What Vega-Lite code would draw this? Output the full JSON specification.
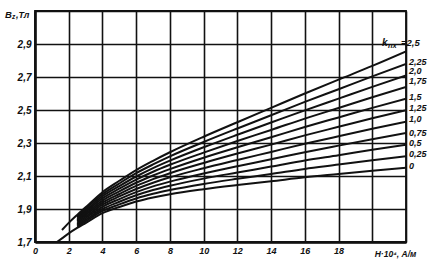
{
  "$schema": "https://vega.github.io/schema/vega-lite/v6.json",
  "width": 371,
  "height": 231,
  "autosize": "none",
  "padding": {"left": 35, "top": 11, "right": 26, "bottom": 18},
  "background": "white",
  "config": {
    "view": {"stroke": "#111", "strokeWidth": 1.8},
    "font": "Liberation Sans",
    "axis": {
      "grid": true, "gridColor": "#111", "gridWidth": 1.6, "gridOpacity": 1,
      "tickSize": 0, "domainColor": "#111", "domainWidth": 2.5,
      "labelFont": "Liberation Sans", "labelFontStyle": "italic", "labelFontWeight": "bold",
      "labelColor": "#111", "labelPadding": 4, "labelFlush": false, "labelOverlap": false,
      "titleFont": "Liberation Sans", "titleFontStyle": "italic", "titleFontWeight": "bold", "titleColor": "#111"
    },
    "axisX": {"labelFontSize": 9, "titleFontSize": 8.5, "titleX": 360, "titleY": 11, "titleAlign": "center", "titleBaseline": "middle"},
    "axisY": {"labelFontSize": 10}
  },
  "datasets": {
    "curves": [
      {"k": 0, "H": 1.3, "B": 1.700}, {"k": 0, "H": 1.6, "B": 1.722}, {"k": 0, "H": 2, "B": 1.752}, {"k": 0, "H": 2.5, "B": 1.785}, {"k": 0, "H": 3, "B": 1.815}, {"k": 0, "H": 4, "B": 1.875}, {"k": 0, "H": 5, "B": 1.912}, {"k": 0, "H": 6, "B": 1.945}, {"k": 0, "H": 7, "B": 1.970}, {"k": 0, "H": 8, "B": 1.990}, {"k": 0, "H": 10, "B": 2.020}, {"k": 0, "H": 12, "B": 2.045}, {"k": 0, "H": 14, "B": 2.068}, {"k": 0, "H": 16, "B": 2.092}, {"k": 0, "H": 18, "B": 2.112}, {"k": 0, "H": 20, "B": 2.132}, {"k": 0, "H": 22, "B": 2.150},
      {"k": 0.25, "H": 2.5, "B": 1.793}, {"k": 0.25, "H": 3, "B": 1.825}, {"k": 0.25, "H": 4, "B": 1.888}, {"k": 0.25, "H": 5, "B": 1.928}, {"k": 0.25, "H": 6, "B": 1.964}, {"k": 0.25, "H": 7, "B": 1.992}, {"k": 0.25, "H": 8, "B": 2.015}, {"k": 0.25, "H": 10, "B": 2.052}, {"k": 0.25, "H": 12, "B": 2.083}, {"k": 0.25, "H": 14, "B": 2.112}, {"k": 0.25, "H": 16, "B": 2.143}, {"k": 0.25, "H": 18, "B": 2.169}, {"k": 0.25, "H": 20, "B": 2.196}, {"k": 0.25, "H": 22, "B": 2.220},
      {"k": 0.5, "H": 2.5, "B": 1.801}, {"k": 0.5, "H": 3, "B": 1.834}, {"k": 0.5, "H": 4, "B": 1.900}, {"k": 0.5, "H": 5, "B": 1.944}, {"k": 0.5, "H": 6, "B": 1.983}, {"k": 0.5, "H": 7, "B": 2.015}, {"k": 0.5, "H": 8, "B": 2.041}, {"k": 0.5, "H": 10, "B": 2.084}, {"k": 0.5, "H": 12, "B": 2.121}, {"k": 0.5, "H": 14, "B": 2.157}, {"k": 0.5, "H": 16, "B": 2.194}, {"k": 0.5, "H": 18, "B": 2.226}, {"k": 0.5, "H": 20, "B": 2.259}, {"k": 0.5, "H": 22, "B": 2.290},
      {"k": 0.75, "H": 2.5, "B": 1.809}, {"k": 0.75, "H": 3, "B": 1.844}, {"k": 0.75, "H": 4, "B": 1.913}, {"k": 0.75, "H": 5, "B": 1.960}, {"k": 0.75, "H": 6, "B": 2.002}, {"k": 0.75, "H": 7, "B": 2.037}, {"k": 0.75, "H": 8, "B": 2.066}, {"k": 0.75, "H": 10, "B": 2.115}, {"k": 0.75, "H": 12, "B": 2.159}, {"k": 0.75, "H": 14, "B": 2.201}, {"k": 0.75, "H": 16, "B": 2.244}, {"k": 0.75, "H": 18, "B": 2.284}, {"k": 0.75, "H": 20, "B": 2.323}, {"k": 0.75, "H": 22, "B": 2.360},
      {"k": 1, "H": 2.5, "B": 1.817}, {"k": 1, "H": 3, "B": 1.853}, {"k": 1, "H": 4, "B": 1.926}, {"k": 1, "H": 5, "B": 1.976}, {"k": 1, "H": 6, "B": 2.021}, {"k": 1, "H": 7, "B": 2.059}, {"k": 1, "H": 8, "B": 2.092}, {"k": 1, "H": 10, "B": 2.147}, {"k": 1, "H": 12, "B": 2.197}, {"k": 1, "H": 14, "B": 2.246}, {"k": 1, "H": 16, "B": 2.295}, {"k": 1, "H": 18, "B": 2.341}, {"k": 1, "H": 20, "B": 2.386}, {"k": 1, "H": 22, "B": 2.429},
      {"k": 1.25, "H": 2.5, "B": 1.825}, {"k": 1.25, "H": 3, "B": 1.863}, {"k": 1.25, "H": 4, "B": 1.939}, {"k": 1.25, "H": 5, "B": 1.991}, {"k": 1.25, "H": 6, "B": 2.040}, {"k": 1.25, "H": 7, "B": 2.081}, {"k": 1.25, "H": 8, "B": 2.117}, {"k": 1.25, "H": 10, "B": 2.179}, {"k": 1.25, "H": 12, "B": 2.236}, {"k": 1.25, "H": 14, "B": 2.290}, {"k": 1.25, "H": 16, "B": 2.346}, {"k": 1.25, "H": 18, "B": 2.398}, {"k": 1.25, "H": 20, "B": 2.450}, {"k": 1.25, "H": 22, "B": 2.499},
      {"k": 1.5, "H": 2.5, "B": 1.833}, {"k": 1.5, "H": 3, "B": 1.872}, {"k": 1.5, "H": 4, "B": 1.951}, {"k": 1.5, "H": 5, "B": 2.007}, {"k": 1.5, "H": 6, "B": 2.059}, {"k": 1.5, "H": 7, "B": 2.103}, {"k": 1.5, "H": 8, "B": 2.142}, {"k": 1.5, "H": 10, "B": 2.211}, {"k": 1.5, "H": 12, "B": 2.274}, {"k": 1.5, "H": 14, "B": 2.335}, {"k": 1.5, "H": 16, "B": 2.397}, {"k": 1.5, "H": 18, "B": 2.455}, {"k": 1.5, "H": 20, "B": 2.513}, {"k": 1.5, "H": 22, "B": 2.569},
      {"k": 1.75, "H": 2.5, "B": 1.841}, {"k": 1.75, "H": 3, "B": 1.882}, {"k": 1.75, "H": 4, "B": 1.964}, {"k": 1.75, "H": 5, "B": 2.023}, {"k": 1.75, "H": 6, "B": 2.078}, {"k": 1.75, "H": 7, "B": 2.126}, {"k": 1.75, "H": 8, "B": 2.168}, {"k": 1.75, "H": 10, "B": 2.242}, {"k": 1.75, "H": 12, "B": 2.312}, {"k": 1.75, "H": 14, "B": 2.379}, {"k": 1.75, "H": 16, "B": 2.448}, {"k": 1.75, "H": 18, "B": 2.512}, {"k": 1.75, "H": 20, "B": 2.577}, {"k": 1.75, "H": 22, "B": 2.639},
      {"k": 2, "H": 2.5, "B": 1.849}, {"k": 2, "H": 3, "B": 1.891}, {"k": 2, "H": 4, "B": 1.977}, {"k": 2, "H": 5, "B": 2.039}, {"k": 2, "H": 6, "B": 2.097}, {"k": 2, "H": 7, "B": 2.148}, {"k": 2, "H": 8, "B": 2.193}, {"k": 2, "H": 10, "B": 2.274}, {"k": 2, "H": 12, "B": 2.350}, {"k": 2, "H": 14, "B": 2.424}, {"k": 2, "H": 16, "B": 2.498}, {"k": 2, "H": 18, "B": 2.569}, {"k": 2, "H": 20, "B": 2.640}, {"k": 2, "H": 22, "B": 2.709},
      {"k": 2.25, "H": 2.5, "B": 1.856}, {"k": 2.25, "H": 3, "B": 1.901}, {"k": 2.25, "H": 4, "B": 1.989}, {"k": 2.25, "H": 5, "B": 2.055}, {"k": 2.25, "H": 6, "B": 2.117}, {"k": 2.25, "H": 7, "B": 2.170}, {"k": 2.25, "H": 8, "B": 2.219}, {"k": 2.25, "H": 10, "B": 2.306}, {"k": 2.25, "H": 12, "B": 2.388}, {"k": 2.25, "H": 14, "B": 2.468}, {"k": 2.25, "H": 16, "B": 2.549}, {"k": 2.25, "H": 18, "B": 2.626}, {"k": 2.25, "H": 20, "B": 2.704}, {"k": 2.25, "H": 22, "B": 2.779},
      {"k": 2.5, "H": 1.6, "B": 1.773}, {"k": 2.5, "H": 2, "B": 1.816}, {"k": 2.5, "H": 2.5, "B": 1.864}, {"k": 2.5, "H": 3, "B": 1.910}, {"k": 2.5, "H": 4, "B": 2.002}, {"k": 2.5, "H": 5, "B": 2.071}, {"k": 2.5, "H": 6, "B": 2.136}, {"k": 2.5, "H": 7, "B": 2.192}, {"k": 2.5, "H": 8, "B": 2.244}, {"k": 2.5, "H": 10, "B": 2.338}, {"k": 2.5, "H": 12, "B": 2.426}, {"k": 2.5, "H": 14, "B": 2.513}, {"k": 2.5, "H": 16, "B": 2.600}, {"k": 2.5, "H": 18, "B": 2.684}, {"k": 2.5, "H": 20, "B": 2.767}, {"k": 2.5, "H": 22, "B": 2.855}
    ],
    "labels": [
      {"label": "2,25", "B": 2.788},
      {"label": "2,0", "B": 2.734},
      {"label": "1,75", "B": 2.678},
      {"label": "1,5", "B": 2.577},
      {"label": "1,25", "B": 2.513},
      {"label": "1,0", "B": 2.447},
      {"label": "0,75", "B": 2.363},
      {"label": "0,5", "B": 2.302},
      {"label": "0,25", "B": 2.236},
      {"label": "0", "B": 2.160}
    ]
  },
  "layer": [
    {
      "data": {"name": "curves"},
      "mark": {"type": "line", "color": "#111", "strokeWidth": 2, "interpolate": "monotone", "clip": true},
      "encoding": {
        "x": {"field": "H", "type": "quantitative", "scale": {"domain": [0, 22], "nice": false, "zero": false},
          "axis": {"values": [0, 2, 4, 6, 8, 10, 12, 14, 16, 18, 20, 22], "labelExpr": "datum.value >= 20 ? '' : datum.label", "title": "H·10⁴, А/м"}},
        "y": {"field": "B", "type": "quantitative", "scale": {"domain": [1.7, 3.1], "nice": false, "zero": false},
          "axis": {"values": [1.7, 1.9, 2.1, 2.3, 2.5, 2.7, 2.9, 3.1], "labelExpr": "datum.value > 3 ? '' : replace(format(datum.value, '.1f'), '.', ',')", "title": null}},
        "detail": {"field": "k", "type": "nominal"}
      }
    },
    {
      "data": {"name": "labels"},
      "mark": {"type": "text", "align": "left", "baseline": "middle", "dx": 3, "fontSize": 9, "fontStyle": "italic", "fontWeight": "bold", "color": "#111", "clip": false},
      "encoding": {
        "x": {"datum": 22, "type": "quantitative",
          "axis": {"values": [0, 2, 4, 6, 8, 10, 12, 14, 16, 18, 20, 22], "labelExpr": "datum.value >= 20 ? '' : datum.label", "title": "H·10⁴, А/м"}},
        "y": {"field": "B", "type": "quantitative",
          "axis": {"values": [1.7, 1.9, 2.1, 2.3, 2.5, 2.7, 2.9, 3.1], "labelExpr": "datum.value > 3 ? '' : replace(format(datum.value, '.1f'), '.', ',')", "title": null}},
        "text": {"field": "label"}
      }
    },
    {
      "data": {"values": [{}]},
      "mark": {"type": "text", "align": "left", "baseline": "middle", "dx": -24, "dy": -1, "fontSize": 10, "fontStyle": "italic", "fontWeight": "bold", "color": "#111", "clip": false, "text": "k"},
      "encoding": {
        "x": {"datum": 22, "type": "quantitative", "axis": {"values": [0, 2, 4, 6, 8, 10, 12, 14, 16, 18, 20, 22], "labelExpr": "datum.value >= 20 ? '' : datum.label", "title": "H·10⁴, А/м"}},
        "y": {"datum": 2.9, "type": "quantitative", "axis": {"values": [1.7, 1.9, 2.1, 2.3, 2.5, 2.7, 2.9, 3.1], "labelExpr": "datum.value > 3 ? '' : replace(format(datum.value, '.1f'), '.', ',')", "title": null}}
      }
    },
    {
      "data": {"values": [{}]},
      "mark": {"type": "text", "align": "left", "baseline": "middle", "dx": -18, "dy": 2, "fontSize": 7.5, "fontStyle": "italic", "fontWeight": "bold", "color": "#111", "clip": false, "text": "пх"},
      "encoding": {
        "x": {"datum": 22, "type": "quantitative", "axis": {"values": [0, 2, 4, 6, 8, 10, 12, 14, 16, 18, 20, 22], "labelExpr": "datum.value >= 20 ? '' : datum.label", "title": "H·10⁴, А/м"}},
        "y": {"datum": 2.9, "type": "quantitative", "axis": {"values": [1.7, 1.9, 2.1, 2.3, 2.5, 2.7, 2.9, 3.1], "labelExpr": "datum.value > 3 ? '' : replace(format(datum.value, '.1f'), '.', ',')", "title": null}}
      }
    },
    {
      "data": {"values": [{}]},
      "mark": {"type": "text", "align": "left", "baseline": "middle", "dx": -5, "dy": -1, "fontSize": 9.5, "fontStyle": "italic", "fontWeight": "bold", "color": "#111", "clip": false, "text": "=2,5"},
      "encoding": {
        "x": {"datum": 22, "type": "quantitative", "axis": {"values": [0, 2, 4, 6, 8, 10, 12, 14, 16, 18, 20, 22], "labelExpr": "datum.value >= 20 ? '' : datum.label", "title": "H·10⁴, А/м"}},
        "y": {"datum": 2.9, "type": "quantitative", "axis": {"values": [1.7, 1.9, 2.1, 2.3, 2.5, 2.7, 2.9, 3.1], "labelExpr": "datum.value > 3 ? '' : replace(format(datum.value, '.1f'), '.', ',')", "title": null}}
      }
    },
    {
      "data": {"values": [{}]},
      "mark": {"type": "text", "align": "left", "baseline": "middle", "dx": -30, "dy": 4, "fontSize": 9.5, "fontStyle": "italic", "fontWeight": "bold", "color": "#111", "clip": false, "text": "B"},
      "encoding": {
        "x": {"datum": 0, "type": "quantitative", "axis": {"values": [0, 2, 4, 6, 8, 10, 12, 14, 16, 18, 20, 22], "labelExpr": "datum.value >= 20 ? '' : datum.label", "title": "H·10⁴, А/м"}},
        "y": {"datum": 3.1, "type": "quantitative", "axis": {"values": [1.7, 1.9, 2.1, 2.3, 2.5, 2.7, 2.9, 3.1], "labelExpr": "datum.value > 3 ? '' : replace(format(datum.value, '.1f'), '.', ',')", "title": null}}
      }
    },
    {
      "data": {"values": [{}]},
      "mark": {"type": "text", "align": "left", "baseline": "middle", "dx": -23, "dy": 6, "fontSize": 6.5, "fontStyle": "italic", "fontWeight": "bold", "color": "#111", "clip": false, "text": "z"},
      "encoding": {
        "x": {"datum": 0, "type": "quantitative", "axis": {"values": [0, 2, 4, 6, 8, 10, 12, 14, 16, 18, 20, 22], "labelExpr": "datum.value >= 20 ? '' : datum.label", "title": "H·10⁴, А/м"}},
        "y": {"datum": 3.1, "type": "quantitative", "axis": {"values": [1.7, 1.9, 2.1, 2.3, 2.5, 2.7, 2.9, 3.1], "labelExpr": "datum.value > 3 ? '' : replace(format(datum.value, '.1f'), '.', ',')", "title": null}}
      }
    },
    {
      "data": {"values": [{}]},
      "mark": {"type": "text", "align": "left", "baseline": "middle", "dx": -19, "dy": 4, "fontSize": 9, "fontStyle": "italic", "fontWeight": "bold", "color": "#111", "clip": false, "text": ",Тл"},
      "encoding": {
        "x": {"datum": 0, "type": "quantitative", "axis": {"values": [0, 2, 4, 6, 8, 10, 12, 14, 16, 18, 20, 22], "labelExpr": "datum.value >= 20 ? '' : datum.label", "title": "H·10⁴, А/м"}},
        "y": {"datum": 3.1, "type": "quantitative", "axis": {"values": [1.7, 1.9, 2.1, 2.3, 2.5, 2.7, 2.9, 3.1], "labelExpr": "datum.value > 3 ? '' : replace(format(datum.value, '.1f'), '.', ',')", "title": null}}
      }
    }
  ]
}
